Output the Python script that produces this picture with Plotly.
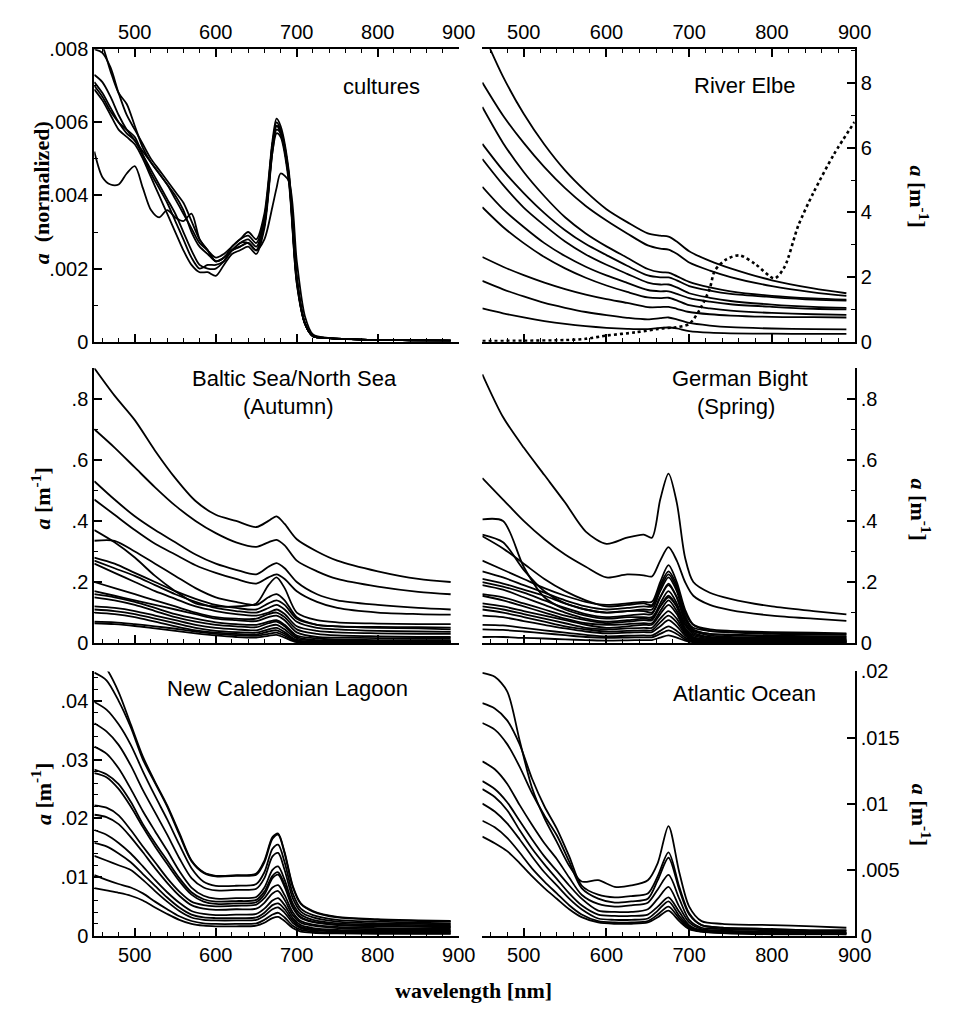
import plotly.graph_objects as go

W, H = 964, 1023

# ---------------- tick labels ----------------
x_tick_vals = [500, 600, 700, 800, 900]
x_tick_text = ["500", "600", "700", "800", "900"]
cult_y_vals = [0, 0.002, 0.004, 0.006, 0.008]
cult_y_text = ["0", ".002", ".004", ".006", ".008"]
elbe_y_vals = [0, 2, 4, 6, 8]
elbe_y_text = ["0", "2", "4", "6", "8"]
mid_y_vals = [0, 0.2, 0.4, 0.6, 0.8]
mid_y_text = ["0", ".2", ".4", ".6", ".8"]
ncl_y_vals = [0, 0.01, 0.02, 0.03, 0.04]
ncl_y_text = ["0", ".01", ".02", ".03", ".04"]
atl_y_vals = [0, 0.005, 0.01, 0.015, 0.02]
atl_y_text = ["0", ".005", ".01", ".015", ".02"]

# ---------------- cultures ----------------
cult_wl = [450, 460, 470, 480, 490, 500, 510, 520, 530, 540, 550, 560, 570, 580, 590, 600, 610,
           620, 630, 640, 650, 660, 670, 675, 680, 690, 700, 710, 720, 740, 780, 840, 890]
cult_a = [
    [.0085, .0081, .0074, .0068, .0065, .0059, .0053, .0049, .0046, .0043, .0039, .0035, .0031, .0027, .0025, .0023, .0024,
     .0026, .0028, .0029, .0027, .0034, .0054, .0060, .0058, .0046, .0017, .0005, .00015, .0001, .00006, .00004, .00003],
    [.0080, .0079, .0075, .0068, .0062, .0058, .0054, .0050, .0047, .0044, .0041, .0038, .0033, .0028, .0025, .0022, .0023,
     .0026, .0028, .0030, .0028, .0035, .0055, .0061, .0059, .0047, .0018, .0005, .00015, .0001, .00006, .00004, .00003],
    [.0073, .0071, .0067, .0062, .0058, .0055, .0051, .0047, .0043, .0039, .0035, .0030, .0025, .0021, .0020, .0020, .0022,
     .0025, .0026, .0027, .0025, .0032, .0053, .0059, .0057, .0045, .0017, .0005, .00015, .0001, .00006, .00004, .00003],
    [.0071, .0068, .0064, .0060, .0057, .0055, .0052, .0049, .0046, .0043, .0040, .0036, .0030, .0026, .0024, .0022, .0023,
     .0025, .0027, .0028, .0026, .0033, .0054, .0059, .0058, .0046, .0017, .0005, .00015, .0001, .00006, .00004, .00003],
    [.0069, .0066, .0062, .0058, .0056, .0054, .0050, .0045, .0040, .0035, .0030, .0025, .0021, .0019, .0019, .0018, .0021,
     .0024, .0025, .0026, .0024, .0031, .0052, .0058, .0057, .0045, .0016, .0005, .00015, .0001, .00006, .00004, .00003],
    [.0070, .0067, .0063, .0060, .0058, .0056, .0051, .0046, .0042, .0038, .0033, .0028, .0023, .0020, .0021, .0021, .0022,
     .0025, .0026, .0027, .0025, .0032, .0052, .0057, .0056, .0044, .0016, .0005, .00015, .0001, .00006, .00004, .00003],
    [.0052, .0045, .0043, .0043, .0046, .0048, .0042, .0036, .0034, .0036, .0034, .0033, .0035, .0028, .0025, .0022, .0023,
     .0025, .0027, .0027, .0025, .0028, .0037, .0042, .0046, .0044, .0022, .0007, .0002, .0001, .00006, .00004, .00003],
]

# ---------------- River Elbe ----------------
elbe_wl = [450, 475, 500, 525, 550, 575, 600, 625, 650, 665, 675, 685, 700, 725, 750, 800, 850, 890]
elbe_a = [
    [9.6, 8.2, 7.05, 6.1, 5.3, 4.65, 4.1, 3.7, 3.35, 3.28, 3.25, 3.1, 2.8, 2.5, 2.27, 1.9, 1.65, 1.5],
    [8.02, 7.0, 6.15, 5.4, 4.75, 4.2, 3.75, 3.35, 2.98, 2.88, 2.85, 2.72, 2.45, 2.2, 2.0, 1.72, 1.53, 1.42],
    [7.26, 6.15, 5.25, 4.5, 3.85, 3.35, 2.95, 2.6, 2.25, 2.15, 2.14, 2.03, 1.85, 1.68, 1.56, 1.42, 1.34, 1.3],
    [6.12, 5.3, 4.6, 3.98, 3.45, 3.02, 2.68, 2.35, 2.05, 1.99, 1.99, 1.9, 1.72, 1.58, 1.48, 1.38, 1.3, 1.27],
    [5.65, 4.85, 4.15, 3.6, 3.1, 2.7, 2.38, 2.1, 1.83, 1.77, 1.77, 1.68, 1.5, 1.36, 1.26, 1.15, 1.08, 1.05],
    [4.79, 4.1, 3.55, 3.05, 2.65, 2.32, 2.05, 1.82, 1.6, 1.56, 1.56, 1.48, 1.35, 1.24, 1.16, 1.08, 1.02, 1.0],
    [4.16, 3.55, 3.05, 2.62, 2.27, 1.98, 1.74, 1.54, 1.37, 1.35, 1.36, 1.28, 1.13, 1.03, 0.96, 0.89, 0.85, 0.83],
    [2.62, 2.32, 2.06, 1.83, 1.63, 1.46, 1.32, 1.2, 1.07, 1.07, 1.08, 1.02, 0.92, 0.85, 0.81, 0.77, 0.76, 0.75],
    [1.88, 1.62, 1.4, 1.2, 1.05, 0.92, 0.82, 0.74, 0.69, 0.73, 0.75, 0.69, 0.58, 0.5, 0.45, 0.41, 0.39, 0.38],
    [1.03, 0.88, 0.75, 0.64, 0.55, 0.48, 0.43, 0.4, 0.39, 0.43, 0.44, 0.41, 0.33, 0.28, 0.26, 0.25, 0.24, 0.24],
]
elbe_dot_wl = [450, 500, 550, 575, 600, 635, 670, 682, 700, 714, 725, 731, 745, 761, 780, 803, 815, 832, 850, 875, 900]
elbe_dot_a = [0.02, 0.03, 0.05, 0.09, 0.19, 0.29, 0.42, 0.44, 0.55, 1.05, 1.66, 2.2, 2.55, 2.67, 2.4, 1.96, 2.3, 3.6, 4.6, 5.8, 6.8]

# ---------------- Baltic Sea / North Sea ----------------
balt_wl = [450, 475, 500, 525, 550, 575, 600, 625, 650, 665, 675, 685, 700, 725, 750, 800, 850, 890]
balt_a = [
    [.90, .81, .73, .63, .54, .465, .42, .40, .38, .40, .415, .39, .34, .30, .27, .235, .21, .20],
    [.70, .64, .575, .51, .45, .40, .36, .33, .315, .33, .338, .32, .27, .235, .21, .185, .168, .16],
    [.53, .47, .415, .37, .33, .29, .26, .24, .225, .25, .262, .245, .20, .16, .14, .125, .115, .11],
    [.47, .42, .37, .325, .29, .255, .23, .21, .195, .215, .225, .21, .17, .135, .115, .10, .095, .093],
    [.37, .33, .28, .22, .17, .13, .12, .12, .13, .19, .215, .18, .10, .075, .068, .064, .062, .062],
    [.335, .335, .30, .26, .22, .18, .15, .135, .125, .15, .16, .14, .085, .06, .055, .053, .052, .051],
    [.28, .26, .23, .20, .17, .145, .125, .115, .11, .13, .14, .125, .08, .06, .055, .05, .048, .045],
    [.27, .245, .22, .19, .16, .135, .115, .105, .10, .115, .125, .11, .07, .05, .045, .04, .038, .037],
    [.26, .23, .20, .17, .145, .12, .105, .095, .09, .10, .11, .095, .055, .04, .035, .032, .03, .03],
    [.20, .18, .16, .14, .12, .10, .085, .08, .08, .095, .10, .085, .045, .03, .025, .022, .02, .02],
    [.17, .155, .14, .125, .11, .095, .08, .075, .072, .085, .09, .075, .035, .02, .018, .016, .015, .015],
    [.16, .15, .135, .115, .095, .08, .068, .062, .06, .07, .075, .06, .025, .015, .012, .01, .01, .01],
    [.15, .14, .125, .105, .085, .07, .06, .055, .052, .065, .07, .055, .02, .01, .008, .007, .006, .006],
    [.12, .115, .105, .09, .075, .06, .05, .045, .042, .055, .06, .045, .015, .008, .006, .005, .005, .005],
    [.11, .105, .095, .08, .065, .05, .04, .036, .034, .045, .05, .036, .01, .005, .004, .004, .003, .003],
    [.10, .095, .085, .07, .055, .042, .034, .03, .028, .038, .042, .03, .008, .004, .003, .003, .002, .002],
    [.07, .068, .062, .055, .047, .038, .03, .026, .024, .03, .034, .024, .005, .002, .002, .001, .001, .001],
    [.065, .062, .056, .048, .04, .032, .025, .02, .018, .024, .027, .018, .003, .001, .001, .001, 0, 0],
]

# ---------------- German Bight ----------------
germ_wl = [450, 475, 500, 525, 550, 575, 600, 625, 645, 655, 665, 675, 685, 695, 705, 725, 750, 800, 850, 890]
germ_a = [
    [.88, .74, .64, .55, .46, .365, .325, .345, .355, .345, .47, .555, .46, .28, .20, .165, .145, .12, .105, .094],
    [.54, .47, .40, .34, .29, .25, .215, .225, .222, .218, .27, .314, .27, .20, .155, .125, .108, .09, .08, .073],
    [.405, .40, .25, .15, .11, .09, .08, .085, .085, .085, .12, .15, .12, .06, .04, .03, .028, .025, .023, .022],
    [.355, .33, .24, .17, .13, .11, .10, .105, .105, .10, .15, .19, .15, .08, .05, .04, .036, .033, .031, .03],
    [.35, .31, .26, .21, .17, .14, .12, .125, .13, .125, .19, .235, .19, .10, .06, .045, .04, .036, .034, .032],
    [.27, .24, .21, .18, .155, .135, .125, .13, .135, .135, .2, .255, .2, .11, .06, .04, .035, .03, .028, .027],
    [.235, .215, .19, .165, .14, .12, .11, .115, .12, .12, .18, .225, .18, .09, .045, .03, .025, .022, .02, .02],
    [.21, .195, .175, .155, .13, .11, .10, .105, .11, .11, .17, .215, .17, .08, .04, .025, .02, .018, .017, .016],
    [.20, .185, .165, .14, .115, .095, .085, .09, .095, .095, .15, .195, .15, .07, .035, .02, .017, .015, .014, .013],
    [.19, .175, .15, .125, .10, .08, .07, .075, .08, .08, .13, .17, .13, .06, .03, .018, .015, .013, .012, .012],
    [.16, .15, .13, .11, .09, .075, .065, .07, .075, .075, .12, .155, .12, .05, .025, .015, .012, .01, .01, .01],
    [.155, .14, .12, .10, .08, .065, .06, .062, .065, .065, .105, .14, .105, .045, .02, .012, .01, .009, .008, .008],
    [.13, .12, .105, .09, .075, .06, .05, .055, .06, .06, .095, .125, .095, .04, .018, .01, .008, .007, .007, .007],
    [.12, .11, .095, .08, .065, .05, .045, .048, .05, .05, .08, .105, .08, .035, .015, .008, .007, .006, .006, .006],
    [.11, .10, .085, .07, .055, .045, .038, .04, .042, .042, .068, .09, .068, .03, .012, .006, .005, .005, .005, .005],
    [.09, .085, .072, .06, .048, .038, .032, .034, .036, .036, .055, .075, .055, .025, .01, .005, .004, .004, .004, .004],
    [.06, .058, .05, .042, .034, .027, .022, .024, .025, .025, .04, .055, .04, .018, .007, .004, .003, .003, .003, .003],
    [.045, .043, .038, .032, .026, .02, .017, .018, .019, .019, .03, .042, .03, .012, .005, .003, .002, .002, .002, .002],
    [.02, .02, .017, .015, .012, .01, .008, .009, .01, .01, .018, .025, .018, .008, .003, .002, .001, .001, .001, .001],
]

# ---------------- New Caledonian Lagoon ----------------
ncl_wl = [450, 465, 480, 495, 510, 525, 540, 555, 570, 585, 600, 625, 650, 660, 670, 677, 685, 695, 705, 720, 750, 800, 850, 890]
ncl_a = [
    [.048, .0455, .0415, .036, .0305, .0262, .0222, .0175, .0128, .0108, .0102, .0103, .0106, .0128, .0168, .0174, .0142, .0085, .0055, .0042, .0032, .0028, .0026, .0025],
    [.0448, .0435, .040, .0355, .030, .026, .022, .0172, .0127, .0107, .0101, .0102, .0104, .0125, .0165, .0172, .014, .0083, .0054, .0041, .0031, .0027, .0025, .0024],
    [.0398, .0385, .036, .0325, .028, .0238, .0198, .0155, .0115, .0092, .0085, .0085, .0088, .0108, .0148, .0155, .0125, .0072, .0046, .0035, .0027, .0024, .0022, .0021],
    [.0362, .0348, .0325, .029, .0248, .021, .0172, .0132, .0098, .0082, .0077, .0078, .008, .0098, .0135, .0141, .0112, .0064, .0041, .0031, .0024, .0021, .002, .0019],
    [.0322, .031, .0285, .025, .0212, .0178, .0145, .011, .0082, .0068, .0063, .0064, .0066, .0082, .0112, .0118, .0095, .0055, .0036, .0027, .0021, .0019, .0018, .0017],
    [.0283, .0275, .0258, .0228, .019, .0158, .0128, .0098, .0074, .0062, .0058, .0059, .0061, .0075, .0102, .0108, .0087, .005, .0032, .0024, .0019, .0017, .0016, .0015],
    [.0277, .027, .025, .022, .0185, .0152, .0122, .0093, .007, .0058, .0054, .0055, .0057, .007, .0098, .0104, .0083, .0048, .003, .0023, .0018, .0016, .0015, .0014],
    [.0222, .0218, .0205, .018, .0152, .0125, .0098, .0075, .0058, .0052, .005, .0051, .0053, .0064, .0082, .0086, .0069, .004, .0025, .0019, .0015, .0013, .0012, .0012],
    [.0206, .0202, .019, .0168, .0142, .0115, .009, .0068, .0052, .0046, .0044, .0045, .0046, .0056, .0072, .0076, .0061, .0035, .0022, .0017, .0013, .0011, .001, .001],
    [.018, .0172, .0158, .014, .0118, .0095, .0074, .0056, .0042, .0037, .0035, .0036, .0037, .0046, .006, .0064, .0052, .003, .0018, .0013, .001, .0009, .0008, .0008],
    [.0158, .0152, .014, .0125, .0105, .0085, .0065, .0048, .0036, .0031, .003, .003, .0031, .0039, .0052, .0055, .0045, .0026, .0015, .0011, .0008, .0007, .0007, .0007],
    [.0136, .0128, .012, .0112, .0095, .0076, .0058, .0042, .0031, .0027, .0026, .0026, .0027, .0034, .0045, .0048, .0039, .0022, .0013, .0009, .0007, .0006, .0006, .0006],
    [.0103, .0095, .0088, .0082, .0072, .0058, .0045, .0033, .0025, .0021, .002, .002, .0021, .0027, .0036, .0039, .0031, .0017, .001, .0007, .0005, .0005, .0004, .0004],
    [.0081, .0077, .0073, .0068, .006, .0048, .0037, .0027, .002, .0017, .0016, .0016, .0017, .0022, .003, .0032, .0025, .0013, .0007, .0005, .0004, .0003, .0003, .0003],
]

# ---------------- Atlantic Ocean ----------------
atl_wl = [450, 465, 480, 495, 510, 525, 540, 555, 570, 590, 610, 630, 650, 662, 675, 688, 700, 715, 740, 800, 850, 890]
atl_a = [
    [.0199, .0196, .0185, .0148, .0112, .0089, .0071, .0053, .0041, .0042, .0037, .0038, .0042, .0055, .0083, .0048, .0022, .0011, .0009, .0008, .0007, .0006],
    [.0176, .0172, .0163, .0145, .0119, .0098, .0081, .0060, .0038, .0031, .0029, .0030, .0032, .0045, .0063, .0037, .0017, .0008, .0006, .0005, .0004, .0004],
    [.0161, .0156, .0145, .0128, .0108, .0091, .0076, .0056, .0036, .0028, .0025, .0026, .0028, .0042, .0059, .0035, .0016, .0008, .0006, .0005, .0004, .0004],
    [.0132, .0126, .0115, .0099, .0084, .0070, .0058, .0044, .0031, .0024, .0022, .0023, .0025, .0035, .0046, .0028, .0012, .0006, .0005, .0004, .0003, .0003],
    [.0117, .0111, .0101, .0087, .0073, .0060, .0049, .0038, .0028, .0019, .0018, .0018, .0020, .0028, .0037, .0022, .0010, .0005, .0004, .0003, .0003, .0002],
    [.0111, .0105, .0095, .0080, .0066, .0054, .0043, .0032, .0023, .0016, .0015, .0015, .0016, .0022, .0029, .0018, .0008, .0004, .0003, .0003, .0002, .0002],
    [.0100, .0094, .0085, .0073, .0060, .0048, .0038, .0028, .0020, .0013, .0012, .0012, .0013, .0019, .0026, .0015, .0007, .0004, .0003, .0002, .0002, .0002],
    [.0087, .0082, .0074, .0063, .0051, .0041, .0032, .0023, .0016, .0011, .0010, .0010, .0011, .0016, .0022, .0013, .0006, .0003, .0002, .0002, .0002, .0001],
    [.0075, .0070, .0064, .0055, .0045, .0036, .0028, .0020, .0014, .0010, .0009, .0009, .0010, .0014, .0019, .0011, .0005, .0003, .0002, .0001, .0001, .0001],
]

# ---------------- layout geometry (pixels) ----------------
COL_L = [96, 467]
COL_R = [491, 870]
ROWS = [[39, 338], [365, 646], [675, 945]]


def xdom(c):
    return [c[0] / W, c[1] / W]


def ydom(r):
    return [1 - r[1] / H, 1 - r[0] / H]


TICKFONT = dict(family="Liberation Sans, Arial, sans-serif", size=20, color="black")
LABELFONT = dict(family="Liberation Sans, Arial, sans-serif", size=22, color="black")
SERIF = dict(family="Liberation Serif, Times New Roman, serif", size=22, color="black")

fig = go.Figure()

panels = [
    # (key, col, row, wl, curves, yrange, yvals, ytext, yminor, yside, xside, xlabels, xmirror)
    ("", COL_L, ROWS[0], cult_wl, cult_a, [0, 0.008], cult_y_vals, cult_y_text, 0.001, "left", "top", True, "ticks"),
    ("2", COL_R, ROWS[0], elbe_wl, elbe_a, [0, 9.05], elbe_y_vals, elbe_y_text, 1, "right", "top", True, "ticks"),
    ("3", COL_L, ROWS[1], balt_wl, balt_a, [0, 0.9], mid_y_vals, mid_y_text, 0.1, "left", "bottom", False, False),
    ("4", COL_R, ROWS[1], germ_wl, germ_a, [0, 0.9], mid_y_vals, mid_y_text, 0.1, "right", "bottom", False, False),
    ("5", COL_L, ROWS[2], ncl_wl, ncl_a, [0, 0.045], ncl_y_vals, ncl_y_text, 0.002, "left", "bottom", True, False),
    ("6", COL_R, ROWS[2], atl_wl, atl_a, [0, 0.02], atl_y_vals, atl_y_text, None, "right", "bottom", True, False),
]

layout_axes = {}
for key, col, row, wl, curves, yr, yv, yt, ymin, yside, xside, xlab, xmir in panels:
    xa = "x" + key
    ya = "y" + key
    for vals in curves:
        fig.add_trace(go.Scatter(x=wl, y=vals, mode="lines", xaxis=xa, yaxis=ya,
                                 line=dict(color="black", width=1.8, shape="spline", smoothing=0.8),
                                 showlegend=False, hoverinfo="skip"))
    layout_axes["xaxis" + key] = dict(
        domain=xdom(col), anchor=ya, range=[450, 900], side=xside,
        showline=True, linecolor="black", linewidth=2, mirror=xmir,
        ticks="inside", ticklen=8, tickwidth=1.5, tickcolor="black",
        tickmode="array", tickvals=x_tick_vals, ticktext=x_tick_text,
        showticklabels=xlab, tickfont=TICKFONT,
        minor=dict(dtick=20, tick0=500, ticks="inside", ticklen=4, tickwidth=1, tickcolor="black"),
        showgrid=False, zeroline=False, fixedrange=True)
    yax = dict(
        domain=ydom(row), anchor=xa, range=yr, side=yside,
        showline=True, linecolor="black", linewidth=2,
        ticks="inside", ticklen=8, tickwidth=1.5, tickcolor="black",
        tickmode="array", tickvals=yv, ticktext=yt, tickfont=TICKFONT,
        showgrid=False, zeroline=False, fixedrange=True)
    if ymin is not None:
        yax["minor"] = dict(dtick=ymin, tick0=0, ticks="inside", ticklen=4, tickwidth=1, tickcolor="black")
    layout_axes["yaxis" + key] = yax

# dotted curve in River Elbe panel
fig.add_trace(go.Scatter(x=elbe_dot_wl, y=elbe_dot_a, mode="lines", xaxis="x2", yaxis="y2",
                         line=dict(color="black", width=2.6, dash="dot", shape="spline", smoothing=0.8),
                         showlegend=False, hoverinfo="skip"))


def ann(text, px, py, font, angle=0):
    return dict(text=text, x=px / W, y=1 - py / H, xref="paper", yref="paper",
                xanchor="center", yanchor="middle", showarrow=False, font=font, textangle=angle)


annotations = [
    ann("cultures", 388, 77, LABELFONT),
    ann("River Elbe", 758, 76, LABELFONT),
    ann("Baltic Sea/North Sea", 300, 376, LABELFONT),
    ann("(Autumn)", 293, 404, LABELFONT),
    ann("German Bight", 753, 376, LABELFONT),
    ann("(Spring)", 749, 404, LABELFONT),
    ann("New Caledonian Lagoon", 293, 692, LABELFONT),
    ann("Atlantic Ocean", 758, 697, LABELFONT),
    ann("<b><i>a</i>  (normalized)</b>", 42, 186, SERIF, -90),
    ann("<b><i>a</i> [m<sup>-1</sup>]</b>", 42, 498, SERIF, -90),
    ann("<b><i>a</i> [m<sup>-1</sup>]</b>", 42, 800, SERIF, -90),
    ann("<b><i>a</i> [m<sup>-1</sup>]</b>", 936, 190, SERIF, 90),
    ann("<b><i>a</i> [m<sup>-1</sup>]</b>", 937, 510, SERIF, 90),
    ann("<b><i>a</i> [m<sup>-1</sup>]</b>", 937, 822, SERIF, 90),
    ann("<b>wavelength [nm]</b>", 482, 1001, SERIF),
]

fig.update_layout(
    width=W, height=H, autosize=False,
    margin=dict(l=0, r=0, t=0, b=0, pad=0),
    paper_bgcolor="white", plot_bgcolor="white",
    showlegend=False, annotations=annotations,
    **layout_axes,
)

fig.write_html("out.html", config={"displayModeBar": False})
